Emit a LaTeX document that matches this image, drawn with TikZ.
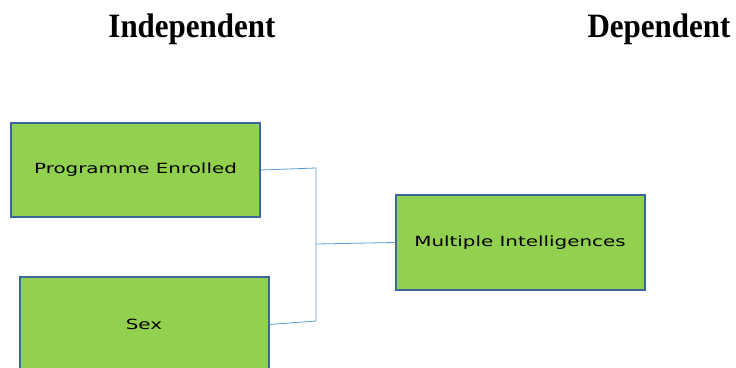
\documentclass[tikz,border=0pt]{standalone}
\usepackage{fontspec}
\setmainfont{Liberation Serif}
\newfontfamily\boxfont{DejaVu Sans}
\definecolor{boxgreen}{HTML}{92D050}
\definecolor{boxedge}{HTML}{3A679A}
\definecolor{linkblue}{HTML}{5B9BD5}
\tikzset{
  varbox/.style={draw=boxedge, line width=2pt, fill=boxgreen, minimum width=249pt, minimum height=94pt, inner sep=0pt, font=\boxfont\fontsize{14}{16}\selectfont},
  heading/.style={font=\bfseries\fontsize{31}{36}\selectfont},
  link/.style={draw=linkblue, line width=0.8pt}
}
\begin{document}
\begin{tikzpicture}
[x=1pt, y=-1pt]
\useasboundingbox (0,0) rectangle (736,367);
\node [heading] (indep) at (192,29) {\scalebox{1}[1.1]{Independent}};
\node [heading] (dep) at (659,29) {\scalebox{1}[1.1]{Dependent}};
\node [varbox] (prog) at (135.5,170) {\raisebox{-2pt}{\scalebox{1.42}[1]{Programme Enrolled}}};
\node [varbox, minimum height=95pt] (sex) at (144,324.5) {\raisebox{-2pt}{\scalebox{1.42}[1]{Sex}}};
\node [varbox, minimum height=95pt] (mi) at (520,242.5) {\raisebox{-2pt}{\scalebox{1.42}[1]{Multiple Intelligences}}};
\coordinate (jtop) at (316,168);
\coordinate (jbot) at (316,321);
\coordinate (jmid) at (316,244);
\draw [link] (prog.east) -- (jtop) -- (jbot) -- (sex.east);
\draw [link] (jmid) -- (mi.west);
\end{tikzpicture}
\end{document}
